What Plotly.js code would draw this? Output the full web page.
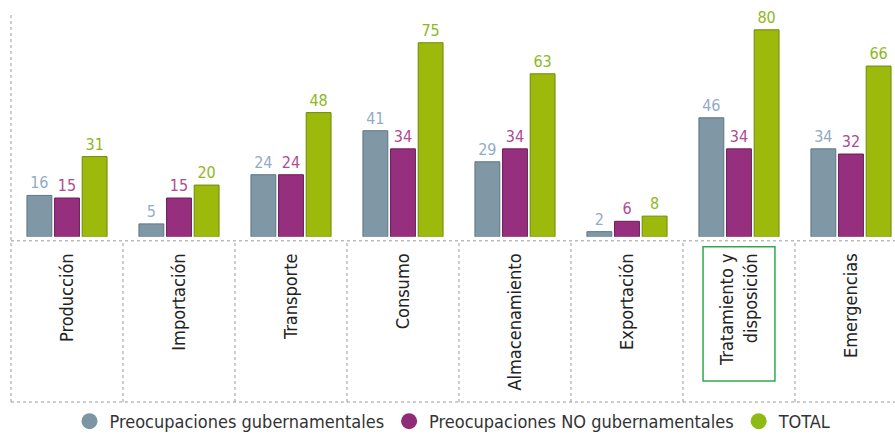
<!DOCTYPE html>
<html>
<head>
<meta charset="utf-8">
<script src="https://cdn.plot.ly/plotly-3.0.1.min.js"></script>
<style>html,body{margin:0;padding:0;background:#fff;}#chart{width:895px;height:440px;}</style>
</head>
<body>
<div id="chart"></div>
<script>
var categories = ["Producción", "Importación", "Transporte", "Consumo", "Almacenamiento", "Exportación", "Tratamiento y<br>disposición", "Emergencias"];
var gubernamentales = [16, 5, 24, 41, 29, 2, 46, 34];
var noGubernamentales = [15, 15, 24, 34, 34, 6, 34, 32];
var total = [31, 20, 48, 75, 63, 8, 80, 66];
var seriesNames = ["Preocupaciones gubernamentales", "Preocupaciones NO gubernamentales", "TOTAL"];

var FONT = "'DejaVu Sans Condensed', 'Liberation Sans Narrow', 'Roboto', sans-serif";
var barColors = ["#8098a5", "#962f7e", "#9dba0c"];
var lineColors = ["#5d7482", "#6a1d58", "#6c8a06"];
var textColors = ["#94abc4", "#b04a93", "#8db823"];
var legendColors = ["#7a95a3", "#8e2c78", "#8dbb14"];

var xs = categories.map(function(c, i){ return i; });
var seriesVals = [gubernamentales, noGubernamentales, total];

var traces = seriesVals.map(function(vals, k){
  return {
    type: "bar", x: xs, y: vals, name: seriesNames[k], showlegend: false,
    marker: {color: barColors[k], line: {color: lineColors[k], width: 1}},
    text: vals.map(String), textposition: "outside", cliponaxis: false,
    textfont: {family: FONT, size: 16, color: textColors[k]},
    hoverinfo: "y"
  };
});
seriesNames.forEach(function(n, k){
  traces.push({type: "scatter", mode: "markers", x: [null], y: [null], name: n,
    marker: {symbol: "circle", size: 20, color: legendColors[k]}, showlegend: true});
});

var dot = {color: "#9a9a9a", width: 1, dash: "dot"};
var shapes = [
  {type: "line", xref: "paper", yref: "paper", x0: 0, x1: 0, y0: 0, y1: 1, line: dot},
  {type: "line", xref: "paper", yref: "paper", x0: 0, x1: 1, y0: 0.4143, y1: 0.4143, line: dot},
  {type: "line", xref: "paper", yref: "paper", x0: 0, x1: 1, y0: 0, y1: 0, line: dot}
];
for (var i = 0; i < categories.length - 1; i++) {
  shapes.push({type: "line", xref: "x", yref: "paper", x0: i + 0.5, x1: i + 0.5, y0: 0, y1: 0.4143, line: dot});
}
shapes.push({type: "rect", xref: "x", yref: "paper", x0: 5.679, x1: 6.321, y0: 0.0537, y1: 0.399,
  line: {color: "#2eaa4a", width: 1.5}});

var layout = {
  width: 895, height: 440,
  margin: {l: 11, r: 0, t: 13, b: 36},
  paper_bgcolor: "#ffffff", plot_bgcolor: "rgba(0,0,0,0)",
  font: {family: FONT, size: 15, color: "#222"},
  barmode: "group", bargap: 0.26, bargroupgap: 0.1,
  showlegend: true,
  legend: {orientation: "h", x: 0.5, xanchor: "center", y: -0.051, yanchor: "middle",
    font: {family: FONT, size: 18, color: "#333"}, bgcolor: "rgba(0,0,0,0)"},
  xaxis: {
    type: "linear", range: [-0.5, 7.393], tickmode: "array", tickvals: xs, ticktext: categories,
    tickangle: -90, showgrid: false, zeroline: false, showline: false, ticks: "",
    ticklabelstandoff: 12, tickfont: {family: FONT, size: 18, color: "#222"}, fixedrange: true
  },
  yaxis: {
    range: [0, 86.5], domain: [0.4246, 1], showgrid: false, zeroline: false, showline: false,
    showticklabels: false, ticks: "", fixedrange: true
  },
  shapes: shapes
};

Plotly.newPlot("chart", traces, layout, {displayModeBar: false, staticPlot: true});
</script>
</body>
</html>
